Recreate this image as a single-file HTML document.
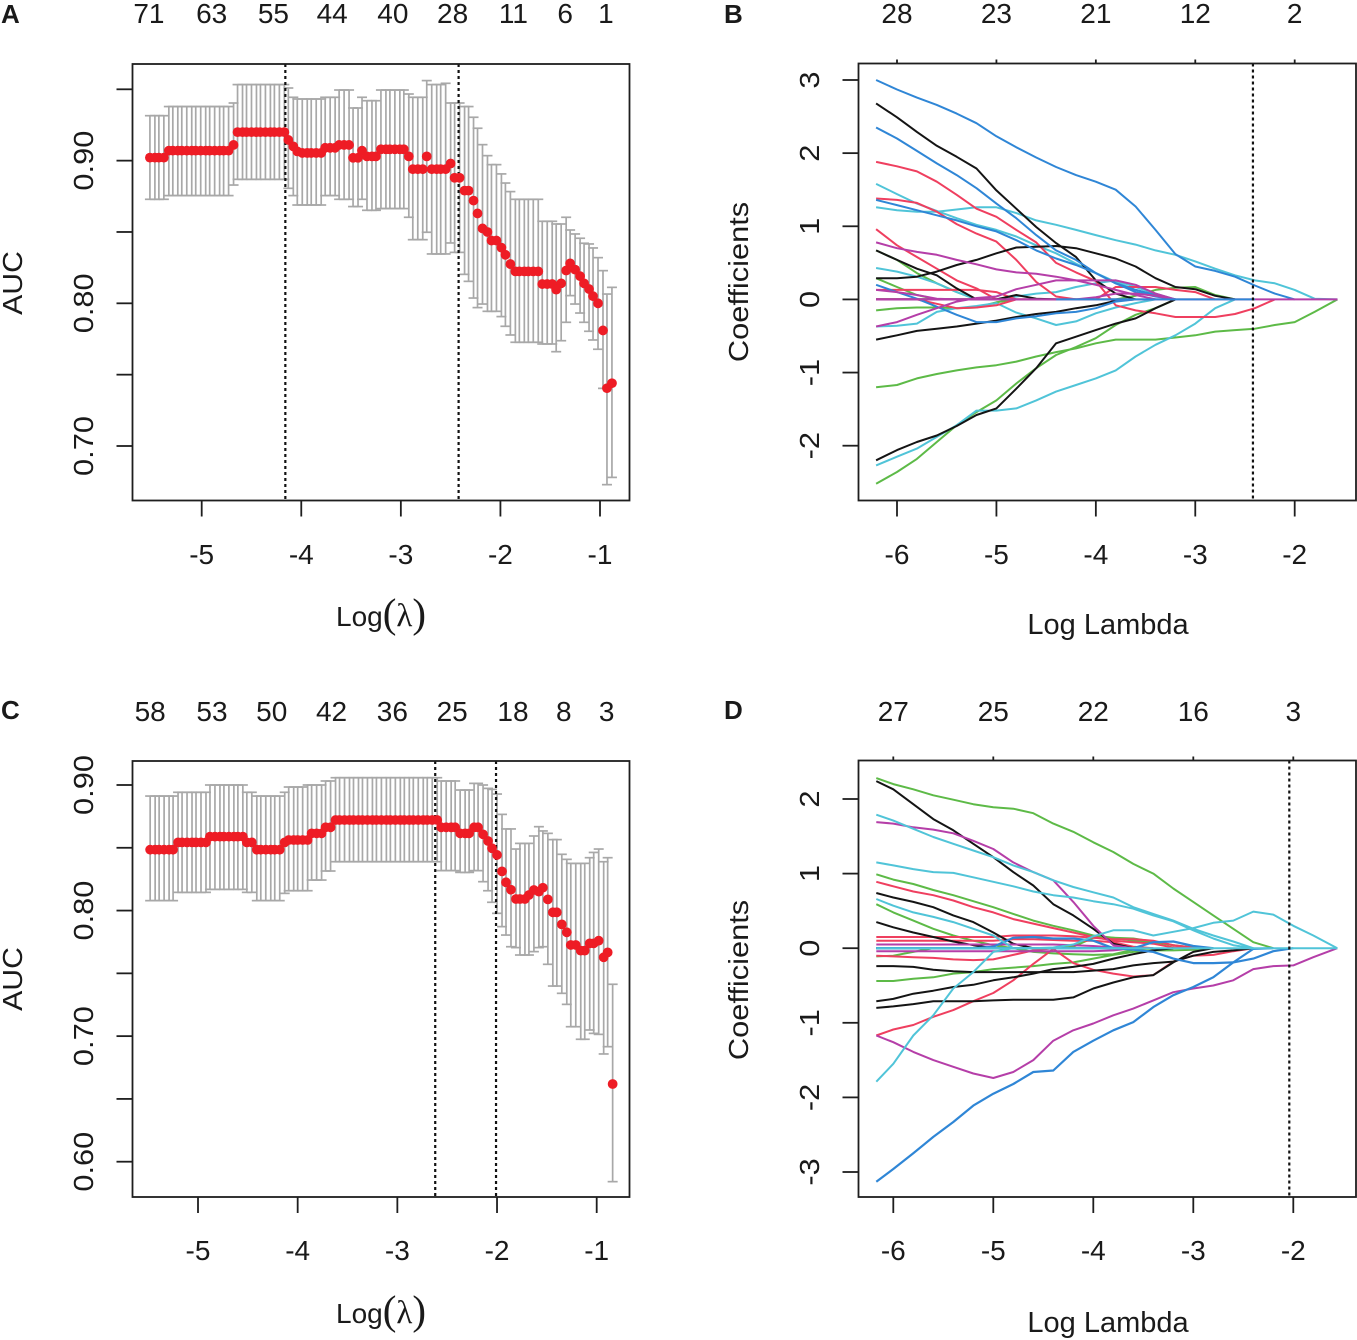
<!DOCTYPE html>
<html lang="en">
<head>
<meta charset="utf-8">
<title>LASSO cross-validation and coefficient paths</title>
<style>
html,body{margin:0;padding:0;background:#fff;}
svg{display:block;}
text{font-family:"Liberation Sans",sans-serif;fill:#1a1a1a;}
</style>
</head>
<body>
<svg id="figure" xmlns="http://www.w3.org/2000/svg" width="1357" height="1340" viewBox="0 0 1357 1340">
  <rect x="0" y="0" width="1357" height="1340" fill="#ffffff"/>
  <g id="panel-a"></g>
  <g id="panel-b"></g>
  <g id="panel-c"></g>
  <g id="panel-d"></g>

  <text x="1" y="23" font-size="26" font-weight="bold">A</text>
  <text x="724" y="23" font-size="26" font-weight="bold">B</text>
  <text x="1" y="719" font-size="26" font-weight="bold">C</text>
  <text x="724" y="719" font-size="26" font-weight="bold">D</text>

  <text transform="translate(22,283) rotate(-90) scale(1.08,1)" text-anchor="middle" font-size="28">AUC</text>
  <text transform="translate(22,979) rotate(-90) scale(1.08,1)" text-anchor="middle" font-size="28">AUC</text>
  <text transform="translate(748,282) rotate(-90) scale(1.1,1)" text-anchor="middle" font-size="28">Coefficients</text>
  <text transform="translate(748,980) rotate(-90) scale(1.1,1)" text-anchor="middle" font-size="28">Coefficients</text>

  <text x="336" y="626" font-size="28">Log<tspan font-family="Liberation Serif" font-size="41" dy="1">(</tspan><tspan font-family="Liberation Serif" font-size="33" dy="-1">λ</tspan><tspan font-family="Liberation Serif" font-size="41" dy="1">)</tspan></text>
  <text x="336" y="1323" font-size="28">Log<tspan font-family="Liberation Serif" font-size="41" dy="1">(</tspan><tspan font-family="Liberation Serif" font-size="33" dy="-1">λ</tspan><tspan font-family="Liberation Serif" font-size="41" dy="1">)</tspan></text>
  <text x="1108" y="634" text-anchor="middle" font-size="29">Log Lambda</text>
  <text x="1108" y="1332" text-anchor="middle" font-size="29">Log Lambda</text>
</svg>

<script>
/* ---------- Panel A data ---------- */
const logLambdaA = [
-5.52,-5.47,-5.43,-5.38,-5.33,-5.29,-5.24,-5.20,-5.15,-5.10,
-5.06,-5.01,-4.96,-4.92,-4.87,-4.82,-4.78,-4.73,-4.68,-4.64,
-4.59,-4.55,-4.50,-4.45,-4.41,-4.36,-4.31,-4.27,-4.22,-4.17,
-4.13,-4.08,-4.04,-3.99,-3.94,-3.90,-3.85,-3.80,-3.76,-3.71,
-3.66,-3.62,-3.57,-3.52,-3.48,-3.43,-3.39,-3.34,-3.29,-3.25,
-3.20,-3.15,-3.11,-3.06,-3.01,-2.97,-2.92,-2.88,-2.83,-2.78,
-2.74,-2.69,-2.64,-2.60,-2.55,-2.50,-2.46,-2.41,-2.36,-2.32,
-2.27,-2.23,-2.18,-2.13,-2.09,-2.04,-1.99,-1.95,-1.90,-1.85,
-1.81,-1.76,-1.72,-1.67,-1.62,-1.58,-1.53,-1.48,-1.44,-1.39,
-1.34,-1.30,-1.25,-1.20,-1.16,-1.11,-1.07,-1.02,-0.97,-0.93,
-0.88];
const aucA = [
.9021,.9021,.9021,.9021,
.907,.907,.907,.907,.907,.907,.907,.907,.907,.907,.907,.907,.907,.907,
.911,
.92,.92,.92,.92,.92,.92,.92,.92,.92,.92,.92,
.9145,.910,.9065,
.9054,.9054,.9054,.9054,.9054,
.909,.909,.909,
.911,.911,.911,
.902,.902,
.907,
.903,.903,.903,
.908,.908,.908,.908,.908,.908,
.903,
.894,.894,.894,
.903,
.894,.894,.894,.894,
.898,
.888,.888,
.879,.879,
.872,.863,.8525,.850,.844,.844,.839,.834,.8275,
.8224,.8224,.8224,.8224,.8224,.8224,
.8135,.8135,.8135,
.8096,.814,.823,.828,.8236,.819,.814,.81,.805,.80,.781,.7405,.744];
const upperA = [
.9315,.9315,.9315,.9315,
.9379,.9379,.9379,.9379,.9379,.9379,.9379,.9379,.9379,.9379,.9379,.9379,.9379,.9379,
.9404,
.9533,.9533,.9533,.9533,.9533,.9533,.9533,.9533,.9533,.9533,.9533,
.9509,.9444,
.9432,.9432,.9432,.9432,.9432,.9432,
.9444,.9444,.9444,
.9495,.9495,.9495,
.9369,.9369,
.9444,
.942,.942,.942,
.9495,.9495,.9495,.9495,.9495,.9495,
.9467,
.9444,.9444,.9444,
.9561,
.9533,.9533,.9533,
.9542,
.9404,.9404,.9404,
.9379,.9379,
.9304,.9227,.9112,.9035,.8972,.8972,.8907,.8843,.8783,
.8729,.8729,.8729,.8729,.8729,.8729,
.8575,.8575,.8575,
.8556,.8556,.8603,.8514,.8486,.8456,.8421,.8416,.8388,.832,.8229,.8065,.8112];
const lowerA = [
.8729,.8729,.8729,.8729,
.8755,.8755,.8755,.8755,.8755,.8755,.8755,.8755,.8755,.8755,.8755,.8755,.8755,.8755,
.8829,
.8869,.8869,.8869,.8869,.8869,.8869,.8869,.8869,.8869,.8869,.8869,
.8806,.8755,
.8689,.8689,.8689,.8689,.8689,.8689,
.8755,.8755,.8755,
.8729,.8729,.8729,
.8678,.8678,
.8729,
.8652,.8652,.8652,
.8664,.8664,.8664,.8664,.8664,.8664,
.8603,
.8446,.8446,.8446,
.8498,
.8346,.8346,.8346,.8346,
.8423,
.8357,.8357,
.8203,.8154,.8037,.797,.7995,.7944,.7944,.7944,.7907,.7839,.7778,
.7727,.7727,.7727,.7727,.7727,.7727,
.7715,.7715,.7715,
.7661,.7738,.7867,.8054,.7995,.7932,.7867,.7804,.7743,.7678,.7404,.6729,.678];
const cutoffsA = [-4.16,-2.42];
const xTicksA = [-5,-4,-3,-2,-1];
const yTicksA = [0.70,0.75,0.80,0.85,0.90,0.95];
const yTickLabelsA = ['0.70','','0.80','','0.90',''];
const topCountsA = ['71','63','55','44','40','28','11','6','1'];
const topCountAtA = [-5.53,-4.90,-4.28,-3.69,-3.08,-2.48,-1.87,-1.35,-0.94];

/* ---------- Panel C data ---------- */
const logLambdaC = [
-5.48,-5.43,-5.39,-5.34,-5.29,-5.25,-5.20,-5.16,-5.11,-5.06,
-5.02,-4.97,-4.92,-4.88,-4.83,-4.78,-4.74,-4.69,-4.64,-4.60,
-4.55,-4.51,-4.46,-4.41,-4.37,-4.32,-4.27,-4.23,-4.18,-4.13,
-4.09,-4.04,-4.00,-3.95,-3.90,-3.86,-3.81,-3.76,-3.72,-3.67,
-3.62,-3.58,-3.53,-3.48,-3.44,-3.39,-3.35,-3.30,-3.25,-3.21,
-3.16,-3.11,-3.07,-3.02,-2.97,-2.93,-2.88,-2.84,-2.79,-2.74,
-2.70,-2.65,-2.60,-2.56,-2.51,-2.46,-2.42,-2.37,-2.32,-2.28,
-2.23,-2.19,-2.14,-2.09,-2.05,-2.00,-1.95,-1.91,-1.86,-1.81,
-1.77,-1.72,-1.68,-1.63,-1.58,-1.54,-1.49,-1.44,-1.40,-1.35,
-1.30,-1.26,-1.21,-1.16,-1.12,-1.07,-1.03,-0.98,-0.93,-0.89,
-0.84];
const aucC = [
.8485,.8485,.8485,.8485,.8485,.8485,
.8543,.8543,.8543,.8543,.8543,.8543,.8543,
.8589,.8589,.8589,.8589,.8589,.8589,.8589,.8589,
.8543,.8543,
.8485,.8485,.8485,.8485,.8485,.8485,
.8543,
.8562,.8562,.8562,.8562,.8562,
.8615,.8615,.8615,
.8663,.8663,
.8721,.8721,.8721,.8721,.8721,.8721,.8721,.8721,.8721,.8721,.8721,.8721,
.8721,.8721,.8721,.8721,.8721,.8721,.8721,.8721,.8721,.8721,.8721,
.8663,.8663,.8663,.8663,
.8615,.8615,.8615,
.8663,.8663,
.8607,.8554,.8496,.8443,.8312,.8225,.8166,
.8092,.8092,.8092,
.8124,.8164,.8151,.8182,.8089,.7986,.7986,.789,.7827,.7726,.7726,.7681,.7681,
.7739,.7739,.776,.7628,.7667,.6619];
const upperC = [
.8912,.8912,.8912,.8912,.8912,.8912,
.8942,.8942,.8942,.8942,.8942,.8942,.8942,
.90,.90,.90,.90,.90,.90,.90,.90,
.8942,.8942,
.8912,.8912,.8912,.8912,.8912,.8912,
.8942,
.8984,.8984,.8984,.8984,
.90,.90,.90,.90,
.9032,.9032,
.9058,.9058,.9058,.9058,.9058,.9058,.9058,.9058,.9058,.9058,.9058,.9058,
.9058,.9058,.9058,.9058,.9058,.9058,.9058,.9058,.9058,.9058,.9058,
.9032,.9032,.9032,.9032,
.896,.896,.896,
.9013,.9013,
.90,.8973,.8965,.8928,.8766,.865,.865,.849,
.8535,.8535,.8535,
.8594,.8668,.8634,.8615,.8565,.8565,.8448,.8408,
.8376,.8376,.8376,.8376,
.8421,.8463,.849,.8389,.8421,.7413];
const lowerC = [
.8079,.8079,.8079,.8079,.8079,.8079,
.8145,.8145,.8145,.8145,.8145,.8145,.8145,
.8169,.8169,.8169,.8169,.8169,.8169,.8169,.8169,
.8145,.8145,
.8079,.8079,.8079,.8079,.8079,.8079,
.8137,
.8158,.8158,.8158,.8158,.8158,
.8243,.8243,.8243,
.8315,.8315,
.8389,.8389,.8389,.8389,.8389,.8389,.8389,.8389,.8389,.8389,.8389,.8389,
.8389,.8389,.8389,.8389,.8389,.8389,.8389,.8389,.8389,.8389,.8389,
.8318,.8318,.8318,.8318,
.8304,.8304,.8304,
.8318,.8318,
.823,.8158,.8066,.7978,.7872,.7805,.7712,.7705,
.7646,.7646,.7646,
.7673,.7705,.7712,.7572,.7399,.7399,.7341,.7253,.7075,.7075,.6975,.6975,
.7049,.7022,.7014,.6858,.6916,.5841];
const cutoffsC = [-2.62,-2.01];
const xTicksC = [-5,-4,-3,-2,-1];
const yTicksC = [0.60,0.65,0.70,0.75,0.80,0.85,0.90];
const yTickLabelsC = ['0.60','','0.70','','0.80','','0.90'];
const topCountsC = ['58','53','50','42','36','25','18','8','3'];
const topCountAtC = [-5.48,-4.86,-4.26,-3.66,-3.05,-2.45,-1.84,-1.33,-0.90];

/* ---------- Panel B data (coefficient paths) ---------- */
const gridB = [-6.21,-6.0,-5.8,-5.6,-5.4,-5.2,-5.0,-4.8,-4.6,-4.4,-4.2,-4.0,-3.8,-3.6,-3.4,-3.2,-3.0,-2.8,-2.6,-2.4,-2.2,-2.0,-1.8,-1.57];
const b01 = [3.0,2.87,2.76,2.66,2.54,2.41,2.23,2.08,1.94,1.81,1.70,1.61,1.50,1.27,.95,.62,.45,.39,.31,.19,.08,0];
const b02 = [2.68,2.49,2.29,2.10,1.95,1.79,1.49,1.24,.99,.77,.58,.26,.08,0];
const b03 = [2.35,2.20,2.03,1.86,1.70,1.52,1.31,1.11,.88,.67,.54,.36,.22,.13,.06,0];
const b04 = [1.88,1.82,1.75,1.61,1.43,1.24,1.13,.95,.78,.50,.37,.25,-.08,-.15,-.19,-.24,-.24,-.24,-.20,-.12,0];
const b05 = [1.58,1.44,1.31,1.21,1.11,1.02,.95,.86,.74,.63,.49,.36,.24,.13,.06,0];
const b06 = [1.38,1.36,1.32,1.20,1.03,.90,.79,.54,.24,.04,0];
const b07 = [1.36,1.29,1.22,1.15,1.08,1.00,.93,.81,.67,.56,.47,.36,.22,.10,.04,0];
const b08 = [1.26,1.22,1.20,1.20,1.23,1.26,1.26,1.18,1.08,1.02,.95,.88,.81,.75,.67,.61,.52,.42,.33,.26,.22,.13,.01,0];
const b09 = [.96,.74,.58,.42,.26,.15,0];
const b10 = [.78,.70,.65,.61,.54,.48,.41,.37,.35,.31,.26,.20,.13,.06,0];
const b11 = [.29,.29,.31,.38,.47,.54,.63,.71,.72,.73,.70,.63,.56,.45,.29,.17,.14,.05,0];
const b12 = [.67,.54,.42,.33,.15,0];
const b13 = [.67,.54,.36,.22,.10,0];
const b14 = [.43,.38,.31,.22,.10,0];
const b15 = [.29,.17,.06,0];
const b16 = [.20,.10,.01,-.10,-.21,-.31,-.31,-.26,-.23,-.19,-.17,-.12,-.03,0];
const b17 = [.13,.13,.13,.13,.13,.13,.10,0];
const b18 = [.13,.10,.06,.01,0];
const b19 = [0,0,0,-.06,-.12,-.11,-.08,0];
const b20 = [-.15,-.12,-.11,-.11,-.12,-.11,-.04,0];
const b21 = [-.37,-.31,-.21,-.12,-.03,.02,.04,.14,.20,.26,.26,.26,.26,.20,.08,0];
const b22 = [-.37,-.36,-.33,-.17,-.12,-.09,-.05,-.18,-.26,-.35,-.30,-.19,-.11,-.05,0];
const b23 = [0,0,0,0,0,0,0,.04,.08,.10,.17,.22,.26,.17,.08,0];
const b24 = [-.55,-.49,-.43,-.40,-.37,-.33,-.29,-.24,-.20,-.17,-.12,-.08,-.02,0];
const b25 = [-2.20,-2.06,-1.95,-1.86,-1.73,-1.58,-1.49,-1.22,-.94,-.60,-.51,-.42,-.33,-.26,-.12,0];
const b26 = [-2.27,-2.15,-2.04,-1.88,-1.72,-1.52,-1.52,-1.49,-1.38,-1.26,-1.17,-1.08,-.97,-.78,-.62,-.49,-.33,-.12,0];
const b27 = [-2.52,-2.36,-2.18,-1.95,-1.72,-1.54,-1.38,-1.15,-.94,-.76,-.65,-.53,-.35,-.21,-.12,0];
const b28 = [-1.20,-1.17,-1.08,-1.02,-.97,-.93,-.90,-.85,-.78,-.72,-.67,-.60,-.55,-.55,-.55,-.52,-.49,-.44,-.42,-.40,-.35,-.31,-.17,0];
const b29 = [0,0,0,0,0,0,0,0,0,0,0,0,0,.05,.13,.16,.17,.06,0];
const b30 = [0,0,0,0,0,0,0,.06,.01,0];
const b31 = [0,0,0,0,0,0,0,0,0,0,0,0,.17,.17,.17,.13,.10,0];
const b32 = [0,0,0,0,0,0,0,0,0,0,0,.03,.08,.08,.05,0];
const b33 = [0,0,0,0,0,0,0,0,0,0,0,0,0,0,0,0,0,0,0,0,0,0,0,0];
const b34 = [null,null,null,null,null,null,null,null,null,0,0,0,0,0,0,0,0,0,0,0];
const cutoffB = [-2.42];
const xTicksB = [-6,-5,-4,-3,-2];
const yTicksB = [-2,-1,0,1,2,3];
const yTickLabelsB = ['-2','-1','0','1','2','3'];
const topCountsB = ['28','23','21','12','2'];

/* ---------- Panel D data (coefficient paths) ---------- */
const gridD = [-6.17,-6.0,-5.8,-5.6,-5.4,-5.2,-5.0,-4.8,-4.6,-4.4,-4.2,-4.0,-3.8,-3.6,-3.4,-3.2,-3.0,-2.8,-2.6,-2.4,-2.2,-2.0,-1.8,-1.56];
const d01 = [2.28,2.20,2.13,2.05,1.99,1.93,1.89,1.87,1.81,1.67,1.56,1.42,1.29,1.13,1.0,.80,.62,.44,.26,.08,0];
const d02 = [2.24,2.13,1.93,1.73,1.58,1.40,1.22,1.02,.84,.59,.44,.26,.06,0];
const d03 = [1.79,1.71,1.60,1.49,1.40,1.31,1.22,1.11,1.02,.91,.82,.75,.68,.55,.46,.37,.26,.17,.09,0];
const d04 = [1.69,1.67,1.62,1.59,1.54,1.44,1.33,1.15,1.02,.91,.62,.30,.04,0];
const d05 = [1.15,1.11,1.06,1.02,1.01,.95,.89,.83,.76,.71,.68,.63,.59,.53,.44,.36,.24,.13,.04,0];
const d06 = [.99,.92,.86,.78,.71,.63,.55,.46,.37,.30,.24,.17,.14,.10,.08,.04,.01,0];
const d07 = [.89,.83,.76,.71,.64,.55,.48,.39,.33,.27,.21,.15,.10,.08,.06,.01,0];
const d08 = [.74,.68,.62,.55,.44,.35,.21,.06,0];
const d09 = [.66,.57,.48,.42,.35,.26,.17,0];
const d10 = [.59,.48,.37,.26,.17,.10,.04,0];
const d11 = [.35,.28,.21,.15,.09,.04,0];
const d12 = [.15,.15,.15,.15,.15,.15,.15,.17,.17,.17,.16,.14,.12,.12,.10,.04,.01,0];
const d13 = [.10,.10,.10,.10,.10,.10,.10,.12,.12,.11,.10,.10,.08,.02,0];
const d14 = [0,0,0,0,0,0,.02,.14,.15,.13,.13,.10,0,0,.08,.09,.03,0];
const d15 = [.05,.05,.05,.05,.05,.05,.05,.05,.05,.05,.04,.03,.01,0];
const d16 = [-.04,-.04,-.04,-.04,-.04,-.04,-.04,-.04,-.04,-.04,-.04,-.04,-.03,0];
const d17 = [-.10,-.11,-.12,-.13,-.15,-.16,-.15,-.09,-.03,0];
const d18 = [-.11,-.10,-.05,0];
const d19 = [0,0,0,0,0,0,0,0,0,0,.02,.14,.14,.13,.09,.04,0];
const d20 = [0,0,0,0,0,0,0,0,-.05,-.07,-.08,-.09,-.08,-.02,0];
const d21 = [-1.17,-1.09,-1.03,-.92,-.83,-.71,-.60,-.43,-.21,-.01,-.20,-.29,-.34,-.38,-.36,-.18,-.10,-.09,-.04,0];
const d22 = [-1.79,-1.55,-1.17,-.90,-.54,-.32,-.05,0,0,.01,.05,.16,.24,.24,.17,.22,.27,.34,.37,.49,.45,.30,.17,0];
const d23 = [-.24,-.24,-.25,-.29,-.31,-.32,-.32,-.32,-.32,-.32,-.32,-.30,-.28,-.23,-.20,-.18,-.10,-.05,-.03,0];
const d24 = [-.44,-.44,-.41,-.39,-.34,-.32,-.28,-.26,-.24,-.21,-.19,-.14,-.09,-.05,-.03,-.03,-.02,0];
const d25 = [-.71,-.68,-.61,-.57,-.52,-.49,-.43,-.39,-.34,-.28,-.25,-.21,-.14,-.08,-.03,0];
const d26 = [-.80,-.78,-.75,-.71,-.71,-.71,-.70,-.69,-.69,-.69,-.66,-.54,-.46,-.39,-.36,-.19,-.05,0];
const d27 = [-1.17,-1.26,-1.39,-1.50,-1.59,-1.68,-1.74,-1.66,-1.50,-1.24,-1.10,-1.01,-.90,-.81,-.70,-.59,-.54,-.50,-.43,-.28,-.24,-.23,-.12,0];
const d28 = [-3.13,-2.96,-2.75,-2.53,-2.33,-2.11,-1.95,-1.82,-1.66,-1.64,-1.39,-1.24,-1.10,-.99,-.79,-.63,-.52,-.39,-.19,-.01,0];
const d29 = [0,0,0,0,0,0,0,0,0,0,0,0,0,-.02,-.05,-.14,-.20,-.20,-.19,-.14,-.04,0];
const d30 = [0,0,0,0,0,0,0,0,0,0,0,0,0,0,0,0,0,0,0,0,0,0,0,0];
const d31 = [0,0,0,0,0,0,0,0,0,0,0,0,0,0];
const cutoffD = [-2.04];
const xTicksD = [-6,-5,-4,-3,-2];
const yTicksD = [-3,-2,-1,0,1,2];
const yTickLabelsD = ['-3','-2','-1','0','1','2'];
const topCountsD = ['27','25','22','16','3'];

/* ---------- Colour groups (lists of series above) ---------- */
const greenLinesB = [b13,b15,b20,b27,b28,b29];
const cyanLinesB = [b05,b08,b14,b22,b23,b26];
const redLinesB = [b04,b06,b09,b17,b19,b31];
const blackLinesB = [b02,b11,b12,b24,b25,b30];
const blueLinesB = [b01,b03,b07,b16];
const magentaLinesB = [b10,b18,b21,b32,b33];
const zeroBlueB = [b34];

const greenLinesD = [d01,d06,d10,d18,d19,d20,d24];
const redLinesD = [d07,d12,d13,d17,d21];
const blackLinesD = [d02,d08,d11,d23,d25,d26];
const magentaLinesD = [d04,d15,d16,d27];
const blueLinesD = [d14,d28,d29,d31];
const cyanLinesD = [d03,d05,d09,d22,d30];

/* ---------- Drawing helpers ---------- */
const SVG_NS = 'http://www.w3.org/2000/svg';
const INK = '#1e1e1e';

function scale(d0, p0, d1, p1) {
  return function (v) { return p0 + (v - d0) * (p1 - p0) / (d1 - d0); };
}
function add(parent, tag, geometry) {
  const el = document.createElementNS(SVG_NS, tag);
  Object.keys(geometry).forEach(function (k) { el.setAttribute(k, geometry[k]); });
  parent.appendChild(el);
  return el;
}

function drawFrame(g, box, x, y, xTicks, yTicks, yLabels, xLabelY, yLabelX, topAt, topLabels, topLabelY, topTickLen) {
  const frame = add(g, 'rect', {x: box.l, y: box.t, width: box.r - box.l, height: box.b - box.t, fill: 'none', stroke: INK, 'stroke-width': 1.8});
  
  

  xTicks.forEach(function (t) {
    const tick = add(g, 'line', {x1: x(t), x2: x(t), y1: box.b, y2: box.b + 16, stroke: INK, 'stroke-width': 1.8});
    
    
    const label = add(g, 'text', {x: x(t), y: xLabelY, 'text-anchor': 'middle', 'font-size': 28});
    label.textContent = String(t);
    
    
    if (topTickLen > 0) {
      const top = add(g, 'line', {x1: x(t), x2: x(t), y1: box.t, y2: box.t - topTickLen, stroke: INK, 'stroke-width': 1.8});
      
      
    }
  });

  yTicks.forEach(function (t, i) {
    const tick = add(g, 'line', {x1: box.l - 16, x2: box.l, y1: y(t), y2: y(t), stroke: INK, 'stroke-width': 1.8});
    
    
    if (yLabels[i]) {
      const label = add(g, 'text', {transform: 'translate(' + yLabelX + ',' + y(t) + ') rotate(-90) scale(1.1,1)', 'text-anchor': 'middle', 'font-size': 28});
      label.textContent = yLabels[i];
      
      
    }
  });

  topLabels.forEach(function (txt, i) {
    const label = add(g, 'text', {x: x(topAt[i]), y: topLabelY, 'text-anchor': 'middle', 'font-size': 28});
    label.textContent = txt;
    
    
  });
}

function drawCutoffs(g, box, x, cutoffs) {
  cutoffs.forEach(function (c) {
    const rule = add(g, 'line', {x1: x(c), x2: x(c), y1: box.t, y2: box.b, stroke: '#111', 'stroke-width': 2.2, 'stroke-dasharray': '3 3'});
    
    
  });
}

function drawCv(g, box, x, y, lambda, auc, upper, lower, cutoffs) {
  lambda.forEach(function (l, i) {
    const px = x(l);
    const stem = add(g, 'line', {x1: px, x2: px, y1: y(upper[i]), y2: y(lower[i]), stroke: '#a8a8a8', 'stroke-width': 1.7});
    
    
    const capTop = add(g, 'line', {x1: px - 5, x2: px + 5, y1: y(upper[i]), y2: y(upper[i]), stroke: '#a8a8a8', 'stroke-width': 1.7});
    
    
    const capBottom = add(g, 'line', {x1: px - 5, x2: px + 5, y1: y(lower[i]), y2: y(lower[i]), stroke: '#a8a8a8', 'stroke-width': 1.7});
    
    
  });
  drawCutoffs(g, box, x, cutoffs);
  lambda.forEach(function (l, i) {
    const dot = add(g, 'circle', {cx: x(l), cy: y(auc[i]), r: 4.9, fill: '#ee1c25'});
    
    
  });
}

function drawLines(g, x, y, grid, group, colour, width) {
  group.forEach(function (values) {
    const pts = [];
    values.forEach(function (v, i) {
      if (v !== null) pts.push(x(grid[i]).toFixed(1) + ',' + y(v).toFixed(1));
    });
    const line = add(g, 'polyline', {points: pts.join(' '), fill: 'none', stroke: colour, 'stroke-width': width, 'stroke-linejoin': 'round'});
    
    
  });
}

/* ---------- Panels ---------- */
const BLACK = '#141414', RED = '#ef3f5f', GREEN = '#5dba47', BLUE = '#2f86d6', CYAN = '#50c4d8', MAGENTA = '#b53ea8';

(function panelA() {
  const g = document.getElementById('panel-a');
  const box = {l: 132.5, r: 629.5, t: 64, b: 500.5};
  const x = scale(-5, 201.7, -1, 600);
  const y = scale(0.70, 446, 0.95, 89.3);
  drawCv(g, box, x, y, logLambdaA, aucA, upperA, lowerA, cutoffsA);
  drawFrame(g, box, x, y, xTicksA, yTicksA, yTickLabelsA, 564, 93, topCountAtA, topCountsA, 23, 0);
})();

(function panelC() {
  const g = document.getElementById('panel-c');
  const box = {l: 132.5, r: 629.5, t: 761, b: 1197};
  const x = scale(-5, 198, -1, 596.7);
  const y = scale(0.60, 1161.7, 0.90, 785);
  drawCv(g, box, x, y, logLambdaC, aucC, upperC, lowerC, cutoffsC);
  drawFrame(g, box, x, y, xTicksC, yTicksC, yTickLabelsC, 1260, 93, topCountAtC, topCountsC, 721, 0);
})();

(function panelB() {
  const g = document.getElementById('panel-b');
  const box = {l: 858.5, r: 1356, t: 63.5, b: 500.5};
  const x = scale(-6, 897, -2, 1294.7);
  const y = scale(-2, 445.7, 3, 80);
  drawLines(g, x, y, gridB, greenLinesB, GREEN, 2);
  drawLines(g, x, y, gridB, cyanLinesB, CYAN, 2);
  drawLines(g, x, y, gridB, redLinesB, RED, 2);
  drawLines(g, x, y, gridB, blackLinesB, BLACK, 2);
  drawLines(g, x, y, gridB, blueLinesB, BLUE, 2);
  drawLines(g, x, y, gridB, magentaLinesB, MAGENTA, 2);
  drawLines(g, x, y, gridB, zeroBlueB, BLUE, 2);
  drawCutoffs(g, box, x, cutoffB);
  drawFrame(g, box, x, y, xTicksB, yTicksB, yTickLabelsB, 564, 819, xTicksB, topCountsB, 23, 4);
})();

(function panelD() {
  const g = document.getElementById('panel-d');
  const box = {l: 858.5, r: 1356, t: 760.5, b: 1197};
  const x = scale(-6, 893.3, -2, 1293.3);
  const y = scale(-3, 1172, 2, 799);
  drawLines(g, x, y, gridD, greenLinesD, GREEN, 2);
  drawLines(g, x, y, gridD, redLinesD, RED, 2);
  drawLines(g, x, y, gridD, blackLinesD, BLACK, 2);
  drawLines(g, x, y, gridD, magentaLinesD, MAGENTA, 2);
  drawLines(g, x, y, gridD, blueLinesD, BLUE, 2.2);
  drawLines(g, x, y, gridD, cyanLinesD, CYAN, 2);
  drawCutoffs(g, box, x, cutoffD);
  drawFrame(g, box, x, y, xTicksD, yTicksD, yTickLabelsD, 1260, 819, xTicksD, topCountsD, 721, 4);
})();
</script>
</body>
</html>
